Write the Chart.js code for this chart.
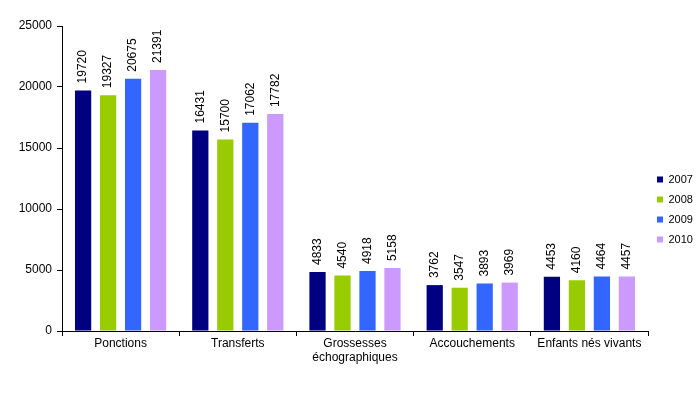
<!DOCTYPE html>
<html>
<head>
<meta charset="utf-8">
<script src="https://cdn.jsdelivr.net/npm/chart.js@4"></script>
<style>
  body { margin: 0; background: #fff; }
</style>
</head>
<body>
<canvas id="chart" width="700" height="419"></canvas>
<script>
const categories = ["Ponctions", "Transferts", ["Grossesses", "échographiques"], "Accouchements", "Enfants nés vivants"];
const years = ["2007", "2008", "2009", "2010"];
const values2007 = [19720, 16431, 4833, 3762, 4453];
const values2008 = [19327, 15700, 4540, 3547, 4160];
const values2009 = [20675, 17062, 4918, 3893, 4464];
const values2010 = [21391, 17782, 5158, 3969, 4457];
const colors = ["#000080", "#99CC00", "#3366FF", "#CC99FF"];

const fontFamily = '"Liberation Sans", Arial, sans-serif';

// valeurs au-dessus des barres, tournées à la verticale
const barLabels = {
  id: "barLabels",
  afterDatasetsDraw(chart) {
    const ctx = chart.ctx;
    ctx.save();
    ctx.font = "12px " + fontFamily;
    ctx.fillStyle = "#000";
    ctx.textAlign = "left";
    ctx.textBaseline = "middle";
    chart.data.datasets.forEach((ds, i) => {
      chart.getDatasetMeta(i).data.forEach((bar, j) => {
        ctx.save();
        ctx.translate(bar.x, bar.y - 7);
        ctx.rotate(-Math.PI / 2);
        ctx.fillText(String(ds.data[j]), 0, 0);
        ctx.restore();
      });
    });
    ctx.restore();
  }
};

const allValues = [values2007, values2008, values2009, values2010];

new Chart(document.getElementById("chart"), {
  type: "bar",
  data: {
    labels: categories,
    datasets: years.map((y, i) => ({
      label: y,
      data: allValues[i],
      backgroundColor: colors[i],
      borderWidth: 0,
      categoryPercentage: 0.853,
      barPercentage: 0.65
    }))
  },
  options: {
    responsive: false,
    animation: false,
    layout: { padding: 0 },
    plugins: {
      title: {
        display: true,
        text: "",
        font: { size: 10, lineHeight: 1 },
        padding: { top: 16, bottom: 0 }
      },
      tooltip: { enabled: false },
      legend: {
        position: "right",
        maxWidth: 52,
        labels: {
          boxWidth: 6,
          boxHeight: 6,
          padding: 9,
          color: "#000",
          font: { family: fontFamily, size: 11 }
        }
      }
    },
    scales: {
      x: {
        afterFit(scale) { scale.height = 88; },
        grid: { drawOnChartArea: false, tickLength: 5, color: "#000", offset: true },
        border: { color: "#000" },
        ticks: {
          color: "#000",
          padding: 1,
          maxRotation: 0,
          autoSkip: false,
          font: { family: fontFamily, size: 12, lineHeight: 1.17 }
        }
      },
      y: {
        min: 0,
        max: 25000,
        afterFit(scale) { scale.width = 62; },
        grid: { drawOnChartArea: false, tickLength: 5, color: "#000" },
        border: { color: "#000" },
        ticks: {
          stepSize: 5000,
          color: "#000",
          padding: 5,
          font: { family: fontFamily, size: 12 },
          callback: (v) => String(v)
        }
      }
    }
  },
  plugins: [barLabels]
});
</script>
</body>
</html>
